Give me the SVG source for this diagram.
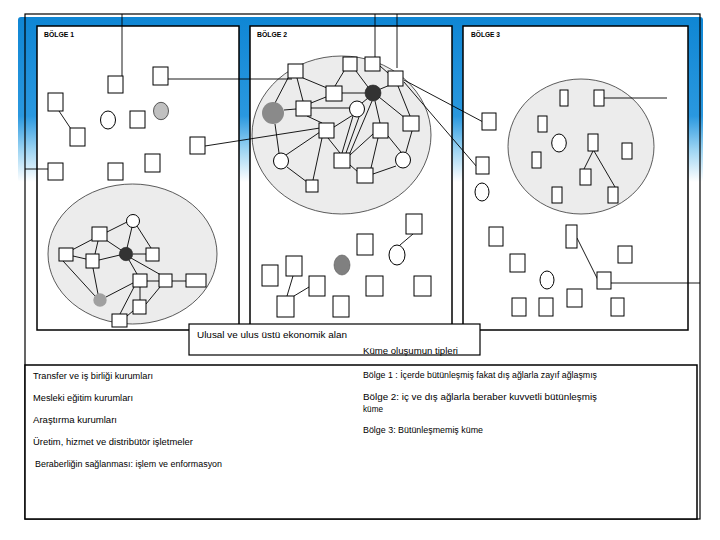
<svg xmlns="http://www.w3.org/2000/svg" width="720" height="540" viewBox="0 0 720 540">
<defs>
<linearGradient id="bg" x1="0" y1="0" x2="0" y2="1">
<stop offset="0" stop-color="#0f86d4"/>
<stop offset="0.6" stop-color="#2a98df"/>
<stop offset="0.8" stop-color="#9ad3f2"/>
<stop offset="1" stop-color="#ffffff"/>
</linearGradient>
<style>
.panel{fill:#fff;stroke:#000;stroke-width:1.5}
.frame{fill:none;stroke:#000;stroke-width:1.2}
.cl{fill:#ececec;stroke:#333;stroke-width:0.8}
.n{fill:#fff;stroke:#000;stroke-width:1}
.k{fill:#333;stroke:#222;stroke-width:0.6}
.g1{fill:#c0c0c0;stroke:#333;stroke-width:0.8}
.g2{fill:#a0a0a0;stroke:none}
.g3{fill:#8a8a8a;stroke:none}
.g4{fill:#808080;stroke:#555;stroke-width:0.6}
#connectors line{stroke:#000;stroke-width:0.9}
text{font-family:"Liberation Sans",Arial,sans-serif;fill:#000}
.lab{font-size:6.5px;font-weight:bold}
.lg{font-size:8.5px}
</style>
</defs>
<rect width="720" height="540" fill="#fff"/>
<rect x="18" y="17" width="685" height="165" rx="3" fill="url(#bg)"/>
<rect class="frame" x="25" y="14" width="675" height="505"/>

<g id="panels">
<g id="bolge1"><rect class="panel" x="37" y="26" width="202" height="304"/><text class="lab" x="44" y="37" textLength="30" lengthAdjust="spacingAndGlyphs">BÖLGE 1</text></g>
<g id="bolge2"><rect class="panel" x="250" y="26" width="202" height="304"/><text class="lab" x="257" y="37" textLength="30" lengthAdjust="spacingAndGlyphs">BÖLGE 2</text></g>
<g id="bolge3"><rect class="panel" x="463" y="26" width="225" height="304"/><text class="lab" x="471" y="37" textLength="29" lengthAdjust="spacingAndGlyphs">BÖLGE 3</text></g>
</g>

<g id="clusters">
<ellipse id="cluster1" class="cl" cx="132.5" cy="254" rx="84.5" ry="70"/>
<ellipse id="cluster2" class="cl" cx="341.5" cy="135" rx="89.5" ry="79"/>
<ellipse id="cluster3" class="cl" cx="581" cy="146.5" rx="73" ry="67.5"/>
</g>

<g id="connectors">
<line x1="122" y1="14" x2="122" y2="77"/>
<line x1="375" y1="14" x2="375" y2="57"/>
<line x1="397" y1="14" x2="397" y2="68"/>
<line x1="25" y1="169" x2="48" y2="169"/>
<line x1="168" y1="79" x2="292" y2="79"/>
<line x1="205" y1="146" x2="320" y2="128"/>
<line x1="59" y1="111" x2="71" y2="129"/>
<line x1="404" y1="80" x2="485" y2="123"/>
<line x1="404" y1="82" x2="477" y2="167"/>
<line x1="599" y1="98" x2="667" y2="98"/>
<line x1="611" y1="283" x2="700" y2="283"/>
<line x1="577" y1="238" x2="598" y2="280"/>
<line x1="593" y1="151" x2="584" y2="169"/>
<line x1="594" y1="151" x2="615" y2="187"/>
<line x1="413" y1="234" x2="400" y2="245"/>
<line x1="293" y1="276" x2="287" y2="296"/>
<line x1="309" y1="287" x2="294" y2="296"/>
<!-- cluster 1 -->
<line x1="107" y1="232" x2="127" y2="222"/>
<line x1="72" y1="250" x2="93" y2="239"/>
<line x1="98" y1="241" x2="95" y2="254"/>
<line x1="106" y1="240" x2="121" y2="250"/>
<line x1="132" y1="227" x2="127" y2="248"/>
<line x1="137" y1="226" x2="151" y2="248"/>
<line x1="73" y1="256" x2="86" y2="259"/>
<line x1="63" y1="261" x2="95" y2="296"/>
<line x1="99" y1="260" x2="120" y2="255"/>
<line x1="133" y1="254" x2="146" y2="254"/>
<line x1="93" y1="268" x2="98" y2="294"/>
<line x1="129" y1="260" x2="137" y2="274"/>
<line x1="131" y1="258" x2="161" y2="275"/>
<line x1="106" y1="297" x2="133" y2="283"/>
<line x1="147" y1="281" x2="159" y2="281"/>
<line x1="172" y1="281" x2="186" y2="281"/>
<line x1="140" y1="287" x2="140" y2="300"/>
<line x1="134" y1="287" x2="120" y2="314"/>
<line x1="160" y1="287" x2="146" y2="304"/>
<line x1="133" y1="311" x2="127" y2="316"/>
<!-- cluster 2 -->
<line x1="303" y1="78" x2="327" y2="88"/>
<line x1="297" y1="78" x2="303" y2="101"/>
<line x1="288" y1="78" x2="275" y2="103"/>
<line x1="344" y1="71" x2="335" y2="86"/>
<line x1="356" y1="71" x2="368" y2="87"/>
<line x1="380" y1="66" x2="388" y2="73"/>
<line x1="390" y1="85" x2="378" y2="90"/>
<line x1="398" y1="86" x2="410" y2="116"/>
<line x1="342" y1="93" x2="365" y2="93"/>
<line x1="326" y1="97" x2="311" y2="103"/>
<line x1="284" y1="110" x2="296" y2="109"/>
<line x1="311" y1="108" x2="350" y2="108"/>
<line x1="307" y1="116" x2="322" y2="123"/>
<line x1="353" y1="115" x2="334" y2="127"/>
<line x1="353" y1="116" x2="342" y2="153"/>
<line x1="359" y1="117" x2="346" y2="153"/>
<line x1="368" y1="98" x2="362" y2="103"/>
<line x1="372" y1="101" x2="350" y2="153"/>
<line x1="375" y1="101" x2="380" y2="123"/>
<line x1="379" y1="97" x2="405" y2="118"/>
<line x1="275" y1="124" x2="279" y2="153"/>
<line x1="320" y1="132" x2="286" y2="155"/>
<line x1="322" y1="138" x2="313" y2="180"/>
<line x1="328" y1="138" x2="340" y2="153"/>
<line x1="287" y1="167" x2="307" y2="182"/>
<line x1="350" y1="155" x2="373" y2="134"/>
<line x1="378" y1="138" x2="371" y2="168"/>
<line x1="388" y1="136" x2="401" y2="152"/>
<line x1="412" y1="131" x2="406" y2="152"/>
<line x1="350" y1="165" x2="358" y2="172"/>
<line x1="373" y1="174" x2="396" y2="166"/>
</g>

<g id="nodes">
<g id="p1a"><rect class="n" x="108" y="76" width="15" height="17"/></g>
<g id="p1b"><rect class="n" x="153" y="67" width="15" height="18"/></g>
<g id="p1c"><rect class="n" x="48" y="93" width="15" height="18"/></g>
<g id="p1d"><rect class="n" x="70" y="128" width="15" height="18"/></g>
<g id="p1e"><ellipse class="n" cx="108" cy="120" rx="7.5" ry="9"/></g>
<g id="p1f"><rect class="n" x="130" y="111" width="15" height="17"/></g>
<g id="p1g"><ellipse class="g1" cx="161" cy="111" rx="7.5" ry="8.7"/></g>
<g id="p1h"><rect class="n" x="190" y="137" width="15" height="17"/></g>
<g id="p1i"><rect class="n" x="145" y="154" width="15" height="18"/></g>
<g id="p1j"><rect class="n" x="48" y="163" width="15" height="17"/></g>
<g id="p1k"><rect class="n" x="108" y="163" width="15" height="17"/></g>

<g id="c1w"><circle class="n" cx="133" cy="221" r="6.5"/></g>
<g id="c1a"><rect class="n" x="92" y="227" width="15" height="14"/></g>
<g id="c1b"><rect class="n" x="59" y="248" width="14" height="13"/></g>
<g id="c1c"><rect class="n" x="86" y="254" width="13" height="14"/></g>
<g id="c1k"><circle class="k" cx="126" cy="254" r="6.7"/></g>
<g id="c1d"><rect class="n" x="146" y="248" width="13" height="13"/></g>
<g id="c1e"><rect class="n" x="133" y="274" width="14" height="13"/></g>
<g id="c1f"><rect class="n" x="159" y="274" width="13" height="13"/></g>
<g id="c1g"><rect class="n" x="186" y="274" width="20" height="13"/></g>
<g id="c1gr"><circle class="g2" cx="100" cy="300" r="6.7"/></g>
<g id="c1h"><rect class="n" x="133" y="300" width="13" height="14"/></g>
<g id="c1i"><rect class="n" x="112" y="314" width="15" height="13"/></g>

<g id="s1"><rect class="n" x="288" y="64" width="15" height="14"/></g>
<g id="s2"><rect class="n" x="343" y="57" width="14" height="14"/></g>
<g id="s3"><rect class="n" x="365" y="57" width="15" height="14"/></g>
<g id="s4"><rect class="n" x="388" y="71" width="15" height="15"/></g>
<g id="k2"><circle class="k" cx="373" cy="93" r="8"/></g>
<g id="s5"><rect class="n" x="326" y="86" width="16" height="15"/></g>
<g id="g2"><circle class="g3" cx="273" cy="113" r="11"/></g>
<g id="s6"><rect class="n" x="296" y="101" width="15" height="15"/></g>
<g id="w1"><ellipse class="n" cx="357" cy="109" rx="7.5" ry="8"/></g>
<g id="s7"><rect class="n" x="319" y="123" width="15" height="15"/></g>
<g id="s8"><rect class="n" x="373" y="123" width="15" height="15"/></g>
<g id="s9"><rect class="n" x="403" y="116" width="16" height="15"/></g>
<g id="w2"><ellipse class="n" cx="281" cy="161" rx="7.5" ry="8"/></g>
<g id="s10"><rect class="n" x="334" y="153" width="16" height="15"/></g>
<g id="w3"><ellipse class="n" cx="403" cy="160" rx="7.5" ry="8"/></g>
<g id="s11"><rect class="n" x="357" y="168" width="16" height="15"/></g>
<g id="s12"><rect class="n" x="306" y="180" width="12" height="12"/></g>

<g id="t1"><rect class="n" x="406" y="214" width="16" height="20"/></g>
<g id="t2"><ellipse class="n" cx="397" cy="255" rx="8" ry="10"/></g>
<g id="t3"><rect class="n" x="357" y="234" width="16" height="21"/></g>
<g id="t4"><ellipse class="g4" cx="342" cy="265" rx="8" ry="10"/></g>
<g id="t5"><rect class="n" x="286" y="256" width="16" height="20"/></g>
<g id="t6"><rect class="n" x="262" y="265" width="16" height="21"/></g>
<g id="t7"><rect class="n" x="309" y="276" width="16" height="20"/></g>
<g id="t8"><rect class="n" x="366" y="276" width="17" height="20"/></g>
<g id="t9"><rect class="n" x="414" y="276" width="17" height="20"/></g>
<g id="t10"><rect class="n" x="277" y="296" width="17" height="21"/></g>
<g id="t11"><rect class="n" x="333" y="296" width="16" height="21"/></g>

<g id="r1"><rect class="n" x="560" y="90" width="8" height="16"/></g>
<g id="r2"><rect class="n" x="594" y="90" width="10" height="16"/></g>
<g id="r3"><rect class="n" x="538" y="116" width="9" height="16"/></g>
<g id="r3c"><ellipse class="n" cx="559" cy="143" rx="7.3" ry="9"/></g>
<g id="r4"><rect class="n" x="588" y="134" width="10" height="17"/></g>
<g id="r5"><rect class="n" x="622" y="143" width="10" height="16"/></g>
<g id="r6"><rect class="n" x="532" y="152" width="9" height="16"/></g>
<g id="r7"><rect class="n" x="580" y="169" width="11" height="16"/></g>
<g id="r8"><rect class="n" x="552" y="187" width="10" height="16"/></g>
<g id="r9"><rect class="n" x="608" y="187" width="10" height="16"/></g>

<g id="q1"><rect class="n" x="482" y="113" width="14" height="17"/></g>
<g id="q2"><rect class="n" x="476" y="157" width="13" height="17"/></g>
<g id="qc1"><ellipse class="n" cx="482" cy="192" rx="7" ry="9"/></g>
<g id="q3"><rect class="n" x="489" y="227" width="14" height="19"/></g>
<g id="r10"><rect class="n" x="566" y="225" width="11" height="23"/></g>
<g id="q4"><rect class="n" x="618" y="246" width="14" height="17"/></g>
<g id="q5"><rect class="n" x="510" y="254" width="15" height="18"/></g>
<g id="qc2"><ellipse class="n" cx="547" cy="280" rx="7" ry="9"/></g>
<g id="q6"><rect class="n" x="597" y="272" width="14" height="17"/></g>
<g id="q7"><rect class="n" x="567" y="289" width="15" height="18"/></g>
<g id="q8"><rect class="n" x="512" y="298" width="14" height="18"/></g>
<g id="q9"><rect class="n" x="539" y="298" width="14" height="18"/></g>
<g id="q10"><rect class="n" x="611" y="298" width="13" height="18"/></g>
</g>

<g id="area">
<rect x="189" y="324" width="291" height="31" fill="#fff" stroke="#000" stroke-width="1.2"/>
<text x="197" y="338" font-size="9" textLength="150" lengthAdjust="spacingAndGlyphs">Ulusal ve ulus üstü ekonomik alan</text>
<text x="363" y="354" font-size="8.5" textLength="95" lengthAdjust="spacingAndGlyphs">Küme oluşumun tipleri</text>
</g>

<g id="legend">
<rect x="25" y="365" width="672" height="154" fill="#fff" stroke="#000" stroke-width="1.5"/>
<text class="lg" x="33" y="379" textLength="120" lengthAdjust="spacingAndGlyphs">Transfer ve iş birliği kurumları</text>
<text class="lg" x="33" y="401" textLength="100" lengthAdjust="spacingAndGlyphs">Mesleki eğitim kurumları</text>
<text class="lg" x="33" y="423" textLength="84" lengthAdjust="spacingAndGlyphs">Araştırma kurumları</text>
<text class="lg" x="33" y="445" textLength="160" lengthAdjust="spacingAndGlyphs">Üretim, hizmet ve distribütör işletmeler</text>
<text class="lg" x="35" y="467" textLength="187" lengthAdjust="spacingAndGlyphs">Beraberliğin sağlanması: işlem ve enformasyon</text>
<text class="lg" x="363" y="378" textLength="234" lengthAdjust="spacingAndGlyphs">Bölge 1 : İçerde bütünleşmiş fakat dış ağlarla zayıf ağlaşmış</text>
<text class="lg" x="363" y="400" textLength="234" lengthAdjust="spacingAndGlyphs">Bölge 2: iç ve dış ağlarla beraber kuvvetli bütünleşmiş</text>
<text class="lg" x="363" y="412" textLength="20" lengthAdjust="spacingAndGlyphs">küme</text>
<text class="lg" x="363" y="433" textLength="120" lengthAdjust="spacingAndGlyphs">Bölge 3: Bütünleşmemiş küme</text>
</g>
</svg>
